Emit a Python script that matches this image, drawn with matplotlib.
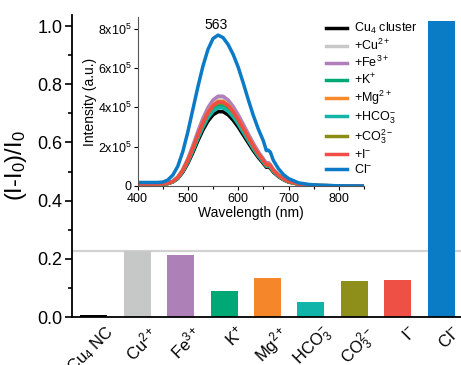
import matplotlib
matplotlib.use("Agg")
import matplotlib.pyplot as plt
from matplotlib.ticker import MultipleLocator
from matplotlib.transforms import ScaledTranslation

plt.rcParams['font.family'] = 'Liberation Sans'
plt.rcParams['mathtext.fontset'] = 'custom'
plt.rcParams['mathtext.rm'] = 'Liberation Sans'
plt.rcParams['mathtext.it'] = 'Liberation Sans:italic'
plt.rcParams['mathtext.default'] = 'regular'

# bar chart data
ions = ['Cu$_4$ NC', 'Cu$^{2+}$', 'Fe$^{3+}$', 'K$^{+}$', 'Mg$^{2+}$',
        'HCO$_3^{-}$', 'CO$_3^{2-}$', 'I$^{-}$', 'Cl$^{-}$']
response = [0.008, 0.228, 0.213, 0.090, 0.134, 0.053, 0.125, 0.126, 1.017]
bar_colors = ['#000000', '#c6c8c7', '#ae80b8', '#00a875', '#f5862a',
              '#10b4a8', '#8e8e1a', '#ef5046', '#0a7cc5']

# emission spectra (intensity in units of 1e5)
wl = [400, 440, 450, 460, 470, 480, 490, 500, 510, 520, 530, 540, 550, 560, 570,
      580, 590, 600, 610, 620, 630, 640, 650, 656, 660, 664, 670, 680, 690, 700,
      720, 740, 760, 800, 850]
cu4 = [0.10, 0.10, 0.10, 0.12, 0.20, 0.38, 0.70, 1.15, 1.70, 2.30, 2.85, 3.30, 3.62, 3.78, 3.78,
       3.62, 3.35, 3.00, 2.60, 2.20, 1.80, 1.45, 1.15, 0.95, 0.98, 0.90, 0.70, 0.48, 0.32, 0.20,
       0.09, 0.04, 0.02, 0.01, 0.00]
cu = [0.10, 0.10, 0.12, 0.14, 0.24, 0.45, 0.83, 1.37, 2.02, 2.74, 3.39, 3.93, 4.31, 4.50, 4.50,
      4.31, 3.99, 3.57, 3.09, 2.62, 2.14, 1.73, 1.37, 1.13, 1.17, 1.07, 0.83, 0.57, 0.38, 0.24,
      0.11, 0.05, 0.02, 0.01, 0.00]
fe = [0.10, 0.10, 0.12, 0.15, 0.24, 0.46, 0.85, 1.39, 2.06, 2.78, 3.45, 3.99, 4.38, 4.57, 4.57,
      4.38, 4.05, 3.63, 3.15, 2.66, 2.18, 1.75, 1.39, 1.15, 1.19, 1.09, 0.85, 0.58, 0.39, 0.24,
      0.11, 0.05, 0.02, 0.01, 0.00]
k = [0.10, 0.10, 0.11, 0.13, 0.22, 0.41, 0.76, 1.24, 1.84, 2.48, 3.08, 3.56, 3.91, 4.08, 4.08,
     3.91, 3.62, 3.24, 2.81, 2.38, 1.94, 1.57, 1.24, 1.03, 1.06, 0.97, 0.76, 0.52, 0.35, 0.22,
     0.10, 0.04, 0.02, 0.01, 0.00]
mg = [0.10, 0.10, 0.11, 0.14, 0.23, 0.43, 0.80, 1.31, 1.94, 2.62, 3.25, 3.76, 4.13, 4.31, 4.31,
      4.13, 3.82, 3.42, 2.96, 2.51, 2.05, 1.65, 1.31, 1.08, 1.12, 1.03, 0.80, 0.55, 0.36, 0.23,
      0.10, 0.05, 0.02, 0.01, 0.00]
hco3 = [0.10, 0.10, 0.10, 0.13, 0.21, 0.40, 0.74, 1.21, 1.79, 2.42, 2.99, 3.47, 3.80, 3.97, 3.97,
        3.80, 3.52, 3.15, 2.73, 2.31, 1.89, 1.52, 1.21, 1.00, 1.03, 0.95, 0.74, 0.50, 0.34, 0.21,
        0.09, 0.04, 0.02, 0.01, 0.00]
co3 = [0.10, 0.10, 0.11, 0.13, 0.22, 0.43, 0.78, 1.29, 1.90, 2.58, 3.19, 3.70, 4.05, 4.23, 4.23,
       4.05, 3.75, 3.36, 2.91, 2.46, 2.02, 1.62, 1.29, 1.06, 1.10, 1.01, 0.78, 0.54, 0.36, 0.22,
       0.10, 0.04, 0.02, 0.01, 0.00]
iod = [0.10, 0.10, 0.11, 0.14, 0.23, 0.43, 0.79, 1.30, 1.92, 2.60, 3.22, 3.73, 4.09, 4.27, 4.27,
       4.09, 3.79, 3.39, 2.94, 2.49, 2.03, 1.64, 1.30, 1.07, 1.11, 1.02, 0.79, 0.54, 0.36, 0.23,
       0.10, 0.05, 0.02, 0.01, 0.00]
cl = [0.18, 0.18, 0.20, 0.30, 0.55, 1.00, 1.75, 2.75, 3.90, 5.05, 6.10, 6.95, 7.50, 7.68, 7.55,
      7.20, 6.70, 6.05, 5.25, 4.40, 3.60, 2.90, 2.30, 1.80, 1.82, 1.72, 1.30, 0.88, 0.58, 0.38,
      0.16, 0.08, 0.04, 0.01, 0.00]

spectra = [cu4, cu, fe, k, mg, hco3, co3, iod, cl]
spec_labels = ['Cu$_4$ cluster', '+Cu$^{2+}$', '+Fe$^{3+}$', '+K$^{+}$', '+Mg$^{2+}$',
               '+HCO$_3^{-}$', '+CO$_3^{2-}$', '+I$^{-}$', 'Cl$^{-}$']
spec_colors = ['#000000', '#c8c8c8', '#b07fbb', '#00a875', '#f68a2c',
               '#14b4a8', '#8c8c14', '#ef4d45', '#0b7bc8']

fig = plt.figure(figsize=(4.61, 3.65), dpi=100)

# main bar chart
ax = fig.add_axes([72 / 461, 1 - 317 / 365, 391 / 461, 302 / 365])
x = list(range(len(ions)))
ax.axhline(response[1], color='#d2d2d2', lw=1.6, zorder=0)
ax.bar(x, response, width=0.62, color=bar_colors, zorder=2)
ax.set_xlim(-0.5, 8.5)
ax.set_ylim(0, 1.038)
ax.set_xticks(x)
ax.set_xticklabels([])
# rotated category labels, nudged right of each bar like the original
shift = ScaledTranslation(11 / 100, -6 / 100, fig.dpi_scale_trans)
for xi, name in zip(x, ions):
    ax.text(xi, 0, name, transform=ax.get_xaxis_transform() + shift,
            rotation=45, ha='right', va='top', rotation_mode='anchor', fontsize=12)
ax.yaxis.set_minor_locator(MultipleLocator(0.1))
ax.set_yticks([0.0, 0.2, 0.4, 0.6, 0.8, 1.0])
ax.set_yticklabels(['0.0', '0.2', '0.4', '0.6', '0.8', '1.0'], fontsize=13)
ax.tick_params(axis='y', which='major', direction='out', length=5, width=1.2, pad=2)
ax.tick_params(axis='y', which='minor', direction='out', length=3, width=1.2)
ax.tick_params(axis='x', length=0)
ax.spines['top'].set_visible(False)
ax.spines['right'].set_visible(False)
ax.spines['left'].set_linewidth(1.3)
ax.spines['bottom'].set_linewidth(1.3)
ax.set_ylabel('(I-I$_0$)/I$_0$', fontsize=17, labelpad=6)

# inset spectra
ins = fig.add_axes([137.5 / 461, 1 - 186 / 365, 226.5 / 461, 169 / 365])
ins.patch.set_alpha(0)
for s, c, lab in zip(spectra, spec_colors, spec_labels):
    ins.plot(wl, [v * 1e5 for v in s], color=c, lw=1.5, label=lab)
ins.set_xlim(400, 850)
ins.set_ylim(0, 8.6e5)
ins.set_xticks([400, 500, 600, 700, 800])
ins.xaxis.set_minor_locator(MultipleLocator(50))
ins.set_yticks([0, 2e5, 4e5, 6e5, 8e5])
ins.set_yticklabels(['0', '2x10$^5$', '4x10$^5$', '6x10$^5$', '8x10$^5$'])
ins.tick_params(labelsize=9, length=3, width=0.8, pad=1)
ins.tick_params(axis='x', pad=2)
ins.tick_params(which='minor', length=2, width=0.8)
ins.spines['top'].set_visible(False)
ins.spines['right'].set_visible(False)
ins.spines['left'].set_color('#555555')
ins.spines['bottom'].set_color('#555555')
ins.set_xlabel('Wavelength (nm)', fontsize=10, labelpad=1)
ins.set_ylabel('Intensity (a.u.)', fontsize=10, labelpad=1)
ins.text(556, 8.2e5, '563', fontsize=10, ha='center', va='center')

handles, labels = ins.get_legend_handles_labels()
for h in handles:
    h.set_linewidth(2.5)
fig.legend(handles, labels, loc='upper left', bbox_to_anchor=(326 / 461, 1 - 21 / 365),
           frameon=False, fontsize=9, labelspacing=0.15, handlelength=1.7,
           handletextpad=0.5, borderaxespad=0, borderpad=0)

fig.savefig('out.png', dpi=100)
